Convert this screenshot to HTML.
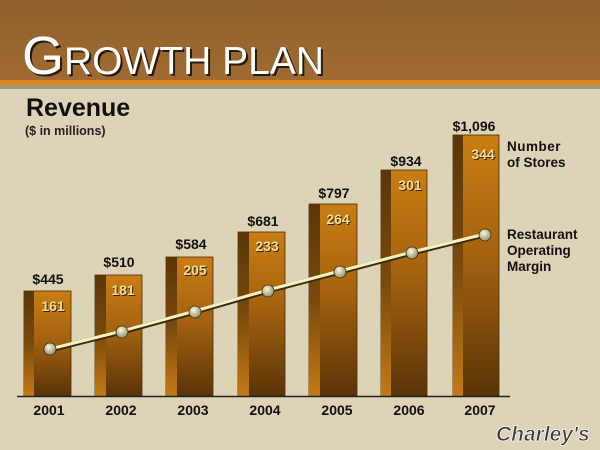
<!DOCTYPE html>
<html><head><meta charset="utf-8"><style>
html,body{margin:0;padding:0}
body{width:600px;height:450px;overflow:hidden;background:#dcd3b8}
svg{display:block}
text{font-family:"Liberation Sans",sans-serif}
</style></head><body>
<svg width="600" height="450" viewBox="0 0 600 450" xmlns="http://www.w3.org/2000/svg">
<defs>
<linearGradient id="face" x1="0" y1="0" x2="0" y2="1">
<stop offset="0" stop-color="#c97d14"/><stop offset="0.45" stop-color="#a5630f"/><stop offset="1" stop-color="#5a3408"/>
</linearGradient>
<linearGradient id="strip" x1="0" y1="0" x2="0" y2="1">
<stop offset="0" stop-color="#5c3608"/><stop offset="0.5" stop-color="#7a4a0c"/><stop offset="1" stop-color="#c47a14"/>
</linearGradient>
<radialGradient id="dot" cx="0.4" cy="0.35" r="0.7">
<stop offset="0" stop-color="#fbf8e0"/><stop offset="1" stop-color="#8d8a62"/>
</radialGradient>
<linearGradient id="band" x1="0" y1="0" x2="0" y2="1">
<stop offset="0" stop-color="#8f5f2c"/><stop offset="1" stop-color="#a06b32"/>
</linearGradient>
</defs>
<rect x="0" y="0" width="600" height="450" fill="#ddd4b7"/>
<rect x="0" y="0" width="600" height="81" fill="url(#band)"/>
<rect x="0" y="80" width="600" height="5" fill="#d98a1a"/>
<rect x="0" y="85" width="600" height="4" fill="#6e5a40" opacity="0.5"/>
<g fill="#2a1a08">
<text x="24" y="76" font-size="54">G<tspan font-size="39">ROWTH PLAN</tspan></text>
</g>
<g fill="#ffffff">
<text x="22" y="74" font-size="54">G<tspan font-size="39">ROWTH PLAN</tspan></text>
</g>
<text x="26" y="116" font-size="25" font-weight="bold" fill="#111">Revenue</text>
<text x="25" y="135" font-size="12.5" font-weight="bold" fill="#222">($ in millions)</text>

<g>
<rect x="24" y="291" width="47" height="105" fill="url(#face)" stroke="#4a2c06" stroke-width="0.8"/>
<rect x="24" y="291" width="10" height="105" fill="url(#strip)"/>
<rect x="95" y="275" width="47" height="121" fill="url(#face)" stroke="#4a2c06" stroke-width="0.8"/>
<rect x="95" y="275" width="11" height="121" fill="url(#strip)"/>
<rect x="166" y="257" width="47" height="139" fill="url(#face)" stroke="#4a2c06" stroke-width="0.8"/>
<rect x="166" y="257" width="11" height="139" fill="url(#strip)"/>
<rect x="238" y="232" width="47" height="164" fill="url(#face)" stroke="#4a2c06" stroke-width="0.8"/>
<rect x="238" y="232" width="11" height="164" fill="url(#strip)"/>
<rect x="309" y="204" width="48" height="192" fill="url(#face)" stroke="#4a2c06" stroke-width="0.8"/>
<rect x="309" y="204" width="11" height="192" fill="url(#strip)"/>
<rect x="381" y="170" width="46" height="226" fill="url(#face)" stroke="#4a2c06" stroke-width="0.8"/>
<rect x="381" y="170" width="10" height="226" fill="url(#strip)"/>
<rect x="453" y="135" width="46" height="261" fill="url(#face)" stroke="#4a2c06" stroke-width="0.8"/>
<rect x="453" y="135" width="10" height="261" fill="url(#strip)"/>
</g>
<line x1="17" y1="396.5" x2="510" y2="396.5" stroke="#222" stroke-width="1.5"/>

<g font-size="14" font-weight="bold" fill="#111" text-anchor="middle">
<text x="48" y="284">$445</text>
<text x="119" y="267">$510</text>
<text x="191" y="249">$584</text>
<text x="263" y="226">$681</text>
<text x="334" y="198">$797</text>
<text x="406" y="166">$934</text>
<text x="474" y="131">$1,096</text>
</g>
<g font-size="14" font-weight="bold" text-anchor="middle">
<g fill="#3a2204" transform="translate(1,1)">
<text x="53" y="311">161</text><text x="123" y="295">181</text><text x="195" y="275">205</text>
<text x="267" y="251">233</text><text x="338" y="224">264</text><text x="410" y="190">301</text><text x="483" y="159">344</text>
</g>
<g fill="#f4dc98">
<text x="53" y="311">161</text><text x="123" y="295">181</text><text x="195" y="275">205</text>
<text x="267" y="251">233</text><text x="338" y="224">264</text><text x="410" y="190">301</text><text x="483" y="159">344</text>
</g>
</g>

<polyline points="50,350 122,332 195,312 268,291 340,272 412,253 485,235" fill="none" stroke="#3a2a10" stroke-width="5"/>
<polyline points="50,349 122,331 195,311 268,290 340,271 412,252 485,234" fill="none" stroke="#f6f0c0" stroke-width="3"/>
<g fill="url(#dot)" stroke="#3a3018" stroke-width="0.8">
<circle cx="50" cy="349" r="6"/><circle cx="122" cy="332" r="6"/><circle cx="195" cy="312" r="6"/>
<circle cx="268" cy="291" r="6"/><circle cx="340" cy="272" r="6"/><circle cx="412" cy="253" r="6"/><circle cx="485" cy="235" r="6"/>
</g>

<g font-size="14" font-weight="bold" fill="#111" text-anchor="middle">
<text x="49" y="415">2001</text><text x="121" y="415">2002</text><text x="193" y="415">2003</text>
<text x="265" y="415">2004</text><text x="337" y="415">2005</text><text x="409" y="415">2006</text><text x="480" y="415">2007</text>
</g>
<g font-size="13.5" font-weight="bold" fill="#111">
<text x="507" y="151" letter-spacing="0.5">Number</text>
<text x="507" y="167">of Stores</text>
<text x="507" y="239">Restaurant</text>
<text x="507" y="255">Operating</text>
<text x="507" y="271">Margin</text>
</g>
<text x="496" y="441" font-family="Liberation Serif,serif" font-style="italic" font-weight="bold" font-size="21" fill="#3a3a3a" stroke="#fff" stroke-width="0.7">Charley's</text>
</svg>
</body></html>
